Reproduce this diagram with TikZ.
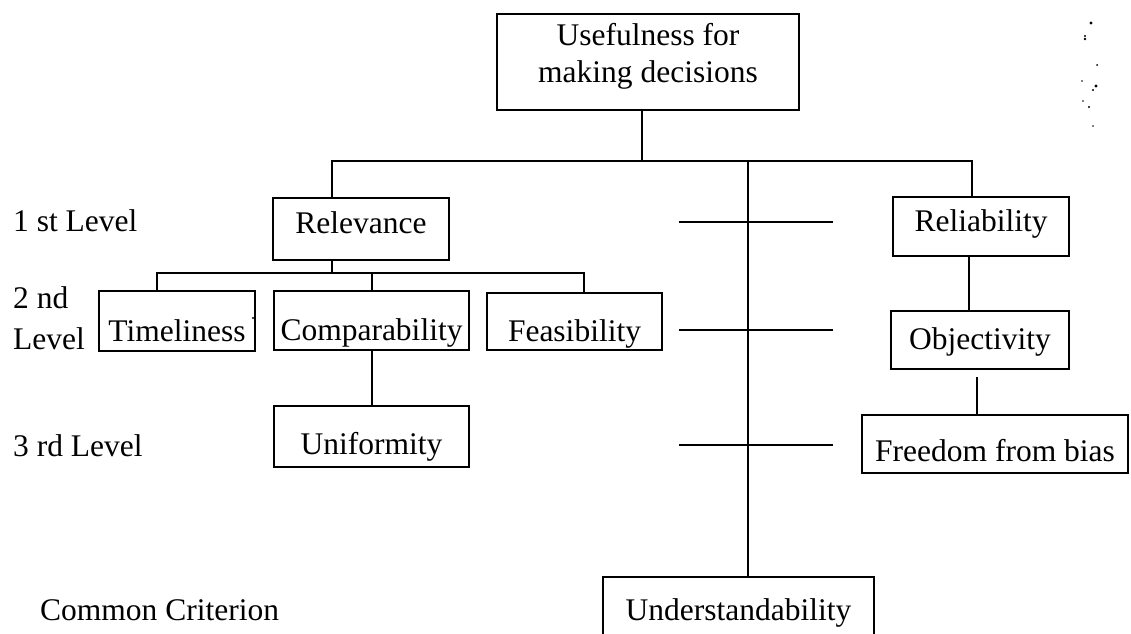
\documentclass[tikz,border=0pt]{standalone}
\usepackage{fontspec}
\setmainfont{Liberation Serif}
% move the ink of a label down (negative: up) without changing its box
\newcommand\lowered[2]{\raisebox{-#1}[\height][\depth]{#2}}
\begin{document}
\begin{tikzpicture}[x=1pt,y=-1pt,
  every node/.style={font=\fontsize{31.5}{37}\selectfont},
  crit/.style={draw, line width=1.8pt, inner sep=0pt, text height=21pt, text depth=7pt, align=center},
  lvl/.style={anchor=base west, inner sep=0pt, align=left},
  link/.style={line width=1.8pt},
  speck/.style={fill=black, draw=none}]
\useasboundingbox (0,0) rectangle (1131,633);
\clip (0,0) rectangle (1131,633);

% criteria boxes
\node[crit, minimum width=302pt, minimum height=96pt, text height=, text depth=]
  (top) at (648,62) {\lowered{-5pt}{\begin{tabular}{@{}c@{}}Usefulness for\\making decisions\end{tabular}}};
\node[crit, minimum width=176pt, minimum height=62pt] (rel)  at (361,229) {\lowered{-3pt}{Relevance}};
\node[crit, minimum width=176pt, minimum height=59pt] (relb) at (981,226.5) {\lowered{-2pt}{Reliability}};
\node[crit, minimum width=156pt, minimum height=60pt] (time) at (177,321) {\lowered{13pt}{Timeliness}};
\node[crit, minimum width=195pt, minimum height=59pt] (comp) at (371.5,320.5) {\lowered{13pt}{Comparability}};
\node[crit, minimum width=175pt, minimum height=57pt] (feas) at (574.5,321.5) {\lowered{13pt}{Feasibility}};
\node[crit, minimum width=178pt, minimum height=58pt] (obj)  at (980,340) {\lowered{2pt}{Objectivity}};
\node[crit, minimum width=266pt, minimum height=58pt] (free) at (995,444) {\lowered{10pt}{Freedom from bias}};
\node[crit, minimum width=195pt, minimum height=61pt] (uni)  at (371.5,436.5) {\lowered{11pt}{Uniformity}};
\node[crit, minimum width=271pt, minimum height=80pt] (und)  at (738.5,617) {\lowered{-4pt}{Understandability}};

% level captions
\node[lvl] (l1) at (13,231) {1 st Level};
\node[lvl] (l2a) at (13,308) {2 nd};
\node[lvl] (l2b) at (13,349) {Level};
\node[lvl] (l3) at (13,456) {3 rd Level};
\node[lvl] (lc) at (40,620) {Common Criterion};

% junction points
\coordinate (hub)  at (642,161);
\coordinate (barL) at (332,161);
\coordinate (barC) at (748,161);
\coordinate (barR) at (972,161);
\coordinate (subM) at (332,273);
\coordinate (subL) at (157,273);
\coordinate (subC) at (372,273);
\coordinate (subR) at (584,273);
\coordinate (relx) at (969,0);
\coordinate (gap)  at (977,377);

% tree connectors
\draw[link] (top.south -| hub) -- (hub);
\draw[link] (rel.north -| barL) -- (barL) -- (barR) -- (relb.north -| barR);
\draw[link] (barC) -- (und.north -| barC);
\draw[link] (rel.south -| subM) -- (subM);
\draw[link] (time.north -| subL) -- (subL) -- (subR) -- (feas.north -| subR);
\draw[link] (subC) -- (comp.north -| subC);
\draw[link] (comp.south -| subC) -- (uni.north -| subC);
\draw[link] (relb.south -| relx) -- (obj.north -| relx);
\draw[link] (gap) -- (free.north -| gap);

% level ticks across the common criterion line
\coordinate (t1a) at (679,222); \coordinate (t1b) at (833,222);
\coordinate (t2a) at (679,330); \coordinate (t2b) at (833,330);
\coordinate (t3a) at (679,445); \coordinate (t3b) at (833,445);
\draw[link] (t1a) -- (t1b);
\draw[link] (t2a) -- (t2b);
\draw[link] (t3a) -- (t3b);

% specks near the upper right margin
\foreach \px/\py/\r in {1091/23/1.6, 1085/36/1.1, 1085/39/1.4, 1097/65/1.0, 1082/81/0.9,
                        1096/86/1.6, 1093/90/1.1, 1083/101/0.9, 1089/107/1.2, 1093/126/0.9, 253/318/1.1}
  \fill[speck] (\px,\py) circle (\r pt);
\end{tikzpicture}
\end{document}
